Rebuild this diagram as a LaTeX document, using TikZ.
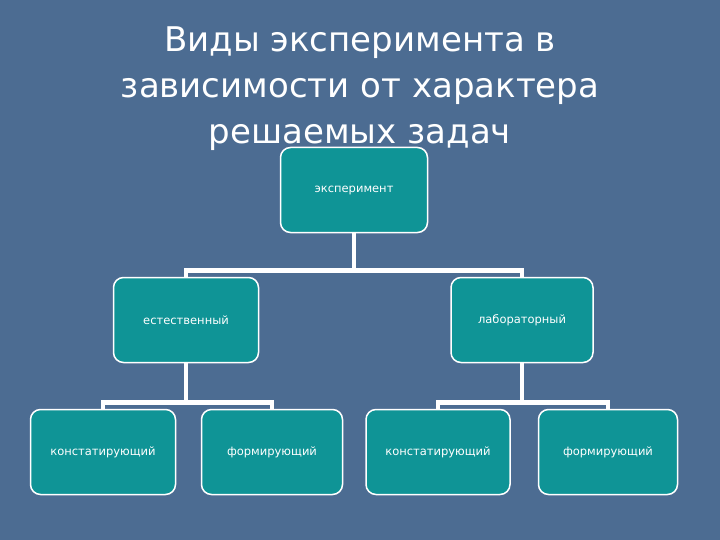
\documentclass[tikz,border=0pt]{standalone}
\usepackage{fontspec}
\setmainfont{DejaVu Sans}
\begin{document}
\begin{tikzpicture}[x=1pt,y=-1pt,
  box/.style={draw=white,line width=1.5pt,fill=boxc,rounded corners=10pt,minimum width=#1,minimum height=85pt,inner sep=0pt,text=white,font=\fontsize{11.5}{13}\selectfont},
  conn/.style={draw=white,line width=4.5pt}]
\definecolor{bgc}{HTML}{4C6C92}
\definecolor{boxc}{HTML}{0F9496}
\fill[bgc] (0,0) rectangle (720,540);
\useasboundingbox (0,0) rectangle (720,540);
\node[text=white,align=center,font=\fontsize{34}{46}\selectfont] (title) at (360,89) {Виды эксперимента в\\зависимости от характера\\решаемых задач};
\node[box=147pt] (root) at (354,190) {эксперимент};
\node[box=145pt] (l) at (186,320) {естественный};
\node[box=142pt] (r) at (522,320) {лабораторный};
\node[box=145pt] (a) at (103,452) {констатирующий};
\node[box=141pt] (b) at (272,452) {формирующий};
\node[box=144pt] (c) at (438,452) {констатирующий};
\node[box=139pt] (d) at (608,452) {формирующий};
\draw[conn] (root.south) -- ++(0,37) -| (l.north);
\draw[conn] (root.south) ++(0,37) -| (r.north);
\draw[conn] (l.south) -- ++(0,39) -| (a.north);
\draw[conn] (l.south) ++(0,39) -| (b.north);
\draw[conn] (r.south) -- ++(0,39) -| (c.north);
\draw[conn] (r.south) ++(0,39) -| (d.north);
\end{tikzpicture}
\end{document}
